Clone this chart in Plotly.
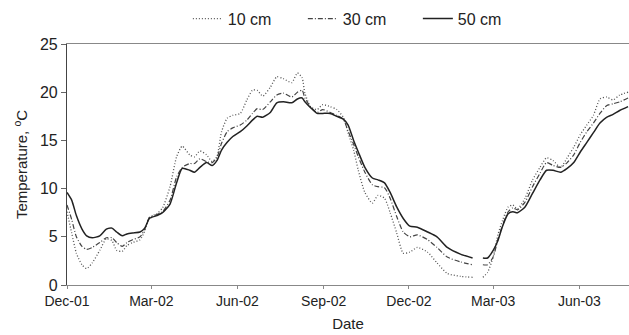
import plotly.graph_objects as go

dates = [
    "2001-12-01", "2001-12-06", "2001-12-11", "2001-12-17", "2001-12-22", "2001-12-28",
    "2002-01-05", "2002-01-12", "2002-01-18", "2002-01-23", "2002-01-29", "2002-02-03",
    "2002-02-09", "2002-02-17", "2002-02-22", "2002-02-27", "2002-03-07", "2002-03-13",
    "2002-03-21", "2002-03-28", "2002-04-03", "2002-04-11", "2002-04-16", "2002-04-22",
    "2002-04-29", "2002-05-05", "2002-05-10", "2002-05-15", "2002-05-21", "2002-05-27",
    "2002-06-04", "2002-06-11", "2002-06-17", "2002-06-22", "2002-06-28", "2002-07-06",
    "2002-07-13", "2002-07-20", "2002-07-29", "2002-08-04", "2002-08-09", "2002-08-12",
    "2002-08-18", "2002-08-25", "2002-08-31", "2002-09-08", "2002-09-15", "2002-09-22",
    "2002-09-27", "2002-10-03", "2002-10-08", "2002-10-15", "2002-10-23", "2002-10-29",
    "2002-11-05", "2002-11-11", "2002-11-18", "2002-11-25", "2002-12-02", "2002-12-10",
    "2002-12-21", "2002-12-31", "2003-01-11", "2003-01-25", "2003-02-07", "2003-02-12",
    "2003-02-18", "2003-02-23", "2003-03-01", "2003-03-06", "2003-03-11", "2003-03-17",
    "2003-03-22", "2003-03-27", "2003-04-04", "2003-04-12", "2003-04-20", "2003-04-27",
    "2003-05-04", "2003-05-12", "2003-05-19", "2003-05-26", "2003-06-02", "2003-06-09",
    "2003-06-16", "2003-06-23", "2003-06-30", "2003-07-07", "2003-07-14", "2003-07-23",
]

t10 = [
    7.6, 5.4, 3.3, 2.1, 1.7, 2.3,
    3.6, 4.8, 4.6, 3.6, 3.5, 4.1,
    4.4, 4.7, 5.6, 7.0, 7.4, 8.0,
    10.2, 13.3, 14.4, 13.5, 13.3, 13.9,
    13.5, 12.8, 13.3, 15.9, 17.3, 17.6,
    17.8, 19.2, 20.2, 20.2, 19.6, 20.5,
    21.6, 21.4, 21.0, 22.0, 21.5, 19.9,
    18.5, 18.2, 18.7, 18.5, 18.2, 17.4,
    15.8, 14.0, 11.9, 9.6, 8.5, 9.3,
    9.0, 7.5, 5.4, 3.3, 3.4, 3.9,
    3.4, 2.3, 1.2, 0.9, 0.8, None,
    0.8, 1.3, 2.9, 5.2, 6.7, 8.1,
    8.3, 7.9, 9.0, 10.9, 12.2, 13.2,
    12.9, 12.2, 13.2, 14.3, 15.6, 16.6,
    17.6, 19.3, 19.5, 19.2, 19.7, 20.0,
]

t30 = [
    8.3, 6.8, 5.0, 4.0, 3.7, 3.9,
    4.4, 4.9, 4.9, 4.4, 4.0, 4.4,
    4.7, 5.0, 5.8, 7.0, 7.3, 7.6,
    8.8, 11.2, 12.2, 12.6, 12.6, 13.1,
    12.8, 12.7, 13.2, 14.7, 15.9, 16.3,
    16.6, 17.1, 17.8, 18.3, 18.2, 19.0,
    19.7, 19.9, 19.5, 20.0, 20.2, 19.4,
    18.5, 17.9, 18.2, 17.9, 17.6, 17.2,
    16.0, 14.6, 13.3, 11.7, 10.4, 10.2,
    10.1, 9.0, 7.1, 5.5, 5.0, 5.2,
    4.7, 3.9, 2.9, 2.4, 2.1, None,
    2.1, 2.1, 2.9, 4.7, 6.2, 7.6,
    8.0, 7.8, 8.6, 10.2, 11.6, 12.7,
    12.4, 12.2, 12.7, 13.5, 14.8, 15.9,
    16.8, 17.8, 18.6, 18.8, 19.0, 19.4,
]

t50 = [
    9.6, 8.8, 7.2, 5.8, 5.1, 4.9,
    5.1, 5.8, 5.9, 5.5, 5.1, 5.3,
    5.4, 5.5, 5.9, 6.9, 7.2, 7.5,
    8.4, 10.6, 12.1, 11.9, 11.7, 12.2,
    12.7, 12.4, 12.9, 14.0, 14.8, 15.4,
    15.9, 16.5, 17.1, 17.5, 17.4, 17.9,
    18.9, 19.0, 18.9, 19.3, 19.4, 19.0,
    18.4, 17.8, 17.8, 17.8, 17.5, 17.2,
    16.6, 15.0, 13.8, 12.2, 11.1, 10.9,
    10.6, 9.6, 8.1, 6.9, 6.1, 6.0,
    5.5, 5.0, 3.9, 3.2, 2.8, None,
    2.8, 2.8, 3.6, 4.6, 6.1, 7.4,
    7.6, 7.5, 8.1, 9.5, 10.9, 11.9,
    11.9, 11.7, 12.1, 12.7, 13.8, 14.8,
    15.8, 16.8, 17.4, 17.7, 18.1, 18.5,
]

series_names = ["10 cm", "30 cm", "50 cm"]

FONT = "Liberation Sans, Arial, sans-serif"

fig = go.Figure()
fig.add_trace(go.Scatter(
    x=dates, y=t10, name=series_names[0], mode="lines", connectgaps=False,
    line=dict(color="#555555", width=1.3, dash="1px,2px", shape="spline", smoothing=0.6),
))
fig.add_trace(go.Scatter(
    x=dates, y=t30, name=series_names[1], mode="lines", connectgaps=False,
    line=dict(color="#444444", width=1.2, dash="5px,2px,1px,2px", shape="spline", smoothing=0.6),
))
fig.add_trace(go.Scatter(
    x=dates, y=t50, name=series_names[2], mode="lines", connectgaps=False,
    line=dict(color="#222222", width=1.5, shape="spline", smoothing=0.6),
))

fig.update_layout(
    width=629, height=335,
    margin=dict(l=67, r=0, t=44, b=50, autoexpand=False),
    paper_bgcolor="white", plot_bgcolor="white",
    font=dict(family=FONT, color="#222222", size=14),
    showlegend=True,
    legend=dict(
        orientation="h", x=0.522, xanchor="center",
        yref="container", y=0.995, yanchor="top",
        font=dict(size=16, family=FONT, color="#222222"),
        bgcolor="rgba(0,0,0,0)", itemwidth=30,
        entrywidth=70, entrywidthmode="pixels",
    ),
    xaxis=dict(
        type="date",
        range=["2001-12-01", "2003-07-24"],
        tick0="2001-12-01", dtick="M3", tickformat="%b-%y",
        showgrid=False, zeroline=False,
        showline=True, linecolor="#888888", linewidth=1.2, mirror=True,
        ticks="outside", ticklen=3, tickcolor="#888888",
        tickfont=dict(size=14, family=FONT, color="#222222"),
        title=dict(text="Date", font=dict(size=15, family=FONT, color="#222222"), standoff=10),
    ),
    yaxis=dict(
        range=[0, 25], dtick=5,
        showgrid=False, zeroline=False,
        showline=True, linecolor="#444444", linewidth=1.2,
        ticks="outside", ticklen=5, tickcolor="#666666",
        tickfont=dict(size=16, family=FONT, color="#222222"),
        title=dict(text="Temperature, <sup>o</sup>C", font=dict(size=15, family=FONT, color="#222222"), standoff=8),
    ),
)

fig.write_html("out.html")
